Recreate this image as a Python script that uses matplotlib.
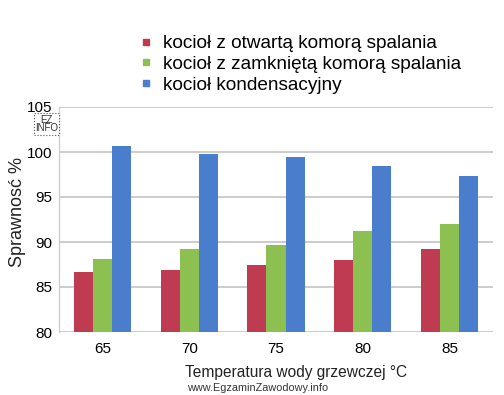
import matplotlib
matplotlib.use("Agg")
import matplotlib.pyplot as plt
import numpy as np
from matplotlib.lines import Line2D

plt.rcParams['font.family'] = ['Liberation Sans', 'DejaVu Sans']

temps = ["65", "70", "75", "80", "85"]
series_names = ["kocioł z otwartą komorą spalania",
                "kocioł z zamkniętą komorą spalania",
                "kocioł kondensacyjny"]
open_chamber = [86.7, 86.9, 87.4, 88.0, 89.2]
closed_chamber = [88.1, 89.2, 89.7, 91.2, 92.0]
condensing = [100.7, 99.8, 99.5, 98.4, 97.3]
colors = ["#BE3B51", "#8CC152", "#4A7DCB"]
y_ticks = [80, 85, 90, 95, 100, 105]

W, H = 504, 395
fig = plt.figure(figsize=(W / 100, H / 100), dpi=100)
ax = fig.add_axes([59 / W, 1 - 332 / H, (493 - 59) / W, (332 - 107) / H])

x = np.arange(len(temps))
bw = 0.22
for i, (vals, c) in enumerate(zip([open_chamber, closed_chamber, condensing], colors)):
    ax.bar(x + (i - 1) * bw, np.array(vals) - 80, bottom=80, width=bw, color=c,
           zorder=3, linewidth=0)

ax.set_xlim(-0.5, len(temps) - 0.5)
ax.set_ylim(80, 105)
ax.set_yticks(y_ticks)
ax.set_yticklabels([str(t) for t in y_ticks], fontsize=11)
ax.set_xticks(x)
ax.set_xticklabels(temps, fontsize=11)
ax.tick_params(axis='both', length=0, pad=5)
ax.tick_params(axis='x', pad=7)
ax.yaxis.grid(True, color="#C8C8C8", linewidth=1.3, zorder=0)
for s in ["top", "right", "bottom"]:
    ax.spines[s].set_visible(False)
ax.spines["left"].set_color("#D0D0D0")
ax.spines["left"].set_linewidth(1.0)

fig.text(18 / W, 1 - 212 / H, "Sprawnosć %", rotation=90, fontsize=13,
         ha="center", va="center", color="#222222")
fig.text(296 / W, 1 - 373 / H, "Temperatura wody grzewczej °C", fontsize=11.2,
         ha="center", va="center", color="#222222")
fig.text(258 / W, 1 - 388 / H, "www.EgzaminZawodowy.info", fontsize=7.8,
         ha="center", va="center", color="#333333")
fig.text(46.5 / W, 1 - 124 / H, "EZ\nINFO", fontsize=7, ha="center", va="center",
         linespacing=0.85, color="#333333",
         bbox=dict(boxstyle="square,pad=0.12", fc="white", ec="#555555",
                   ls=":", lw=0.8))

handles = [Line2D([0], [0], marker="s", color="none", markerfacecolor=c,
                  markeredgecolor=c, markersize=5) for c in colors]
fig.legend(handles, series_names, loc="upper left",
           bbox_to_anchor=(138 / W, 1 - 35 / H), frameon=False, fontsize=13.7,
           handlelength=0.8, handletextpad=0.5, labelspacing=0.18,
           borderaxespad=0, borderpad=0)

fig.savefig("out.png", dpi=100, facecolor="white")
